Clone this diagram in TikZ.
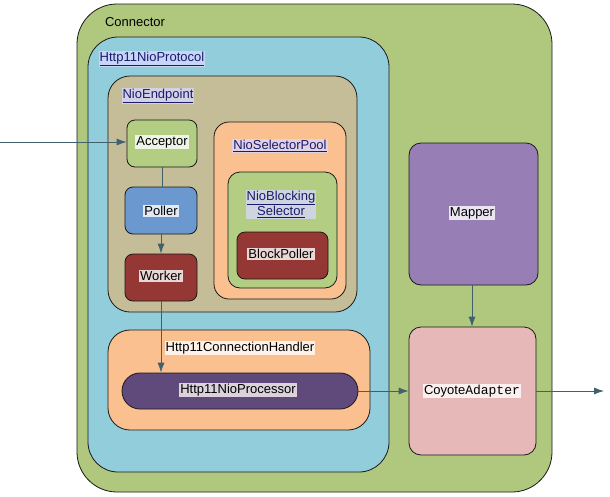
\documentclass[tikz,border=0pt]{standalone}
\usepackage{fontspec}
\setmainfont{Liberation Sans}
\newfontfamily\monof{Liberation Mono}
\usetikzlibrary{arrows.meta}
\definecolor{conngreen}{HTML}{AFC87E}
\definecolor{protoblue}{HTML}{92CDDC}
\definecolor{endtan}{HTML}{C4BD97}
\definecolor{lightgreen}{HTML}{B3CD82}
\definecolor{pollblue}{HTML}{6B98CF}
\definecolor{darkred}{HTML}{953735}
\definecolor{peach}{HTML}{FAC090}
\definecolor{procpurple}{HTML}{604A7B}
\definecolor{mappurple}{HTML}{977EB4}
\definecolor{pink}{HTML}{E6B8B7}
\definecolor{arrowc}{HTML}{41606E}
\definecolor{linkc}{HTML}{1A1A6E}
\begin{document}
\begin{tikzpicture}[x=1pt,y=-1pt,
  box/.style={draw=black!90,line width=0.8pt,inner sep=0pt},
  lbl/.style={font=\fontsize{13}{15.5}\selectfont,inner sep=1pt,fill=white,fill opacity=0.8,text opacity=1},
  link/.style={lbl,text=linkc,fill=white!85!blue,fill opacity=0.75},
  plain/.style={font=\fontsize{13}{15.5}\selectfont,inner sep=1pt},
  arr/.style={draw=arrowc,line width=0.8pt,-{Latex[length=10pt,width=7pt]}},
  ln/.style={draw=arrowc,line width=0.8pt}]
\useasboundingbox (0,0) rectangle (610,496);
\fill[white] (0,0) rectangle (610,496);
% containers
\node[box,fill=conngreen,rounded corners=40pt,minimum width=475pt,minimum height=488pt] (conn) at (314.5,248) {};
\node[plain] (connT) at (135,22) {Connector};
\node[box,fill=protoblue,rounded corners=30pt,minimum width=301pt,minimum height=435pt] (proto) at (238.5,254.5) {};
\node[link] (protoT) at (152,59) {\underline{Http11NioProtocol}};
\node[box,fill=endtan,rounded corners=22pt,minimum width=249pt,minimum height=236pt] (endp) at (232.5,194) {};
\node[link] (endpT) at (158,96) {\underline{NioEndpoint}};
% endpoint parts
\node[box,fill=lightgreen,rounded corners=8pt,minimum width=70pt,minimum height=47pt] (acc) at (162,143.5) {};
\node[lbl] (accT) at (162,142) {Acceptor};
\node[box,fill=pollblue,rounded corners=8pt,minimum width=72pt,minimum height=47pt] (poll) at (161,210.5) {};
\node[lbl] (pollT) at (161,211) {Poller};
\node[box,fill=darkred,rounded corners=8pt,minimum width=72pt,minimum height=47pt] (work) at (161,277.5) {};
\node[lbl] (workT) at (161,276) {Worker};
\node[box,fill=peach,rounded corners=15pt,minimum width=132pt,minimum height=177pt] (pool) at (280,210.5) {};
\node[link] (poolT) at (280,146) {\underline{NioSelectorPool}};
\node[box,fill=lightgreen,rounded corners=12pt,minimum width=109pt,minimum height=116pt] (nbs) at (282.5,230) {};
\node[link,align=center] (nbsT) at (281,204.5) {\underline{NioBlocking}\\\underline{Selector}};
\node[box,fill=darkred,rounded corners=8pt,minimum width=91pt,minimum height=47pt] (bp) at (282.5,255.5) {};
\node[lbl] (bpT) at (281,254) {BlockPoller};
% handler
\node[box,fill=peach,rounded corners=22pt,minimum width=262pt,minimum height=100pt] (hand) at (239,380) {};
\node[lbl] (handT) at (240,348) {Http11ConnectionHandler};
\node[box,fill=procpurple,rounded corners=18pt,minimum width=236pt,minimum height=36pt] (proc) at (240,391) {};
\node[lbl,fill=white!85!pink] (procT) at (238,390) {Http11NioProcessor};
% right side
\node[box,fill=mappurple,rounded corners=12pt,minimum width=129pt,minimum height=142pt] (map) at (473.5,214) {};
\node[lbl] (mapT) at (472,213) {Mapper};
\node[box,fill=pink,rounded corners=12pt,minimum width=127pt,minimum height=128pt] (adap) at (472.5,391) {};
\node[lbl] (adapT) at (472,391) {Coyote{\monof Adapter}};
% connectors
\coordinate (inp) at (0,142);
\coordinate (outp) at (604,391);
\draw[arr] (inp) -- (acc.west |- inp);
\draw[ln] (acc.south -| accT) -- (poll.north -| accT);
\draw[arr] (poll.south) -- (work.north);
\draw[arr] (work.south) -- (work.south |- proc.north);
\draw[arr] (proc.east) -- (adap.west);
\draw[arr] (map.south -| adapT) -- (adap.north -| adapT);
\draw[arr] (adap.east) -- (outp);
\end{tikzpicture}
\end{document}
